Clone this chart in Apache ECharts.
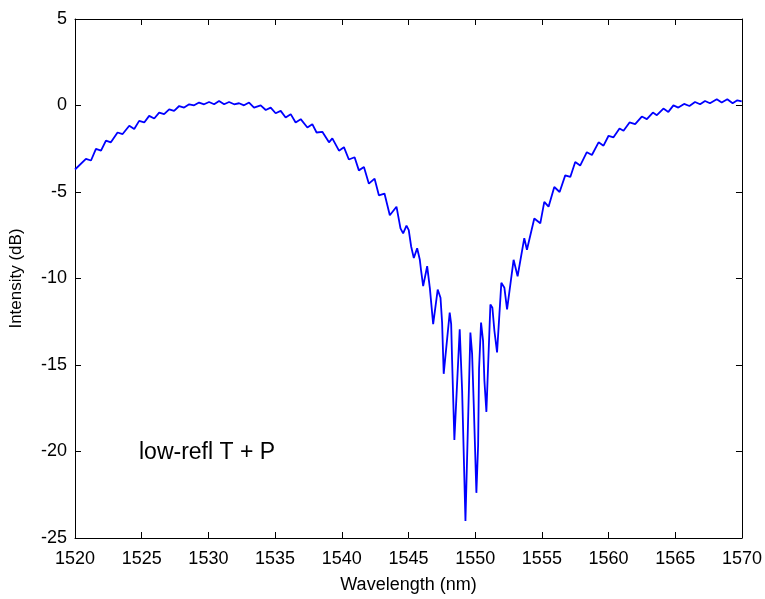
<!DOCTYPE html>
<html>
<head>
<meta charset="utf-8">
<script src="https://cdn.jsdelivr.net/npm/echarts@6/dist/echarts.min.js"></script>
<style>
html, body { margin: 0; padding: 0; background: #fff; }
#chart { width: 765px; height: 599px; }
</style>
</head>
<body>
<div id="chart"></div>
<script>
// values, three pieces: left wing, dip, right wing
var leftNm = [1520.00, 1520.07, 1520.82, 1521.20, 1521.57, 1521.95, 1522.32, 1522.69, 1523.19, 1523.57,
  1524.07, 1524.44, 1524.81, 1525.19, 1525.56, 1525.94, 1526.31, 1526.68, 1527.06, 1527.43,
  1527.81, 1528.18, 1528.56, 1528.93, 1529.30, 1529.68, 1530.05, 1530.43, 1530.80, 1531.18,
  1531.55, 1531.93, 1532.30, 1532.67, 1533.05, 1533.42, 1533.92, 1534.30, 1534.67, 1535.04,
  1535.42, 1535.79, 1536.17, 1536.54, 1536.92, 1537.42, 1537.79, 1538.11, 1538.54, 1539.04,
  1539.29, 1539.79, 1540.16, 1540.53, 1540.96, 1541.28, 1541.66, 1542.03, 1542.46, 1542.78,
  1543.20, 1543.60, 1544.10]
var leftDb = [-3.70, -3.75, -3.08, -3.18, -2.51, -2.61, -2.03, -2.13, -1.56, -1.65,
  -1.17, -1.36, -0.89, -0.98, -0.60, -0.75, -0.41, -0.50, -0.22, -0.31,
  -0.03, -0.12, 0.07, 0.01, 0.17, 0.07, 0.20, 0.07, 0.26, 0.07,
  0.20, 0.07, 0.13, 0.01, 0.17, -0.12, 0.01, -0.26, -0.12, -0.45,
  -0.31, -0.69, -0.50, -0.98, -0.79, -1.27, -1.08, -1.56, -1.52, -2.13,
  -1.90, -2.61, -2.41, -3.12, -2.99, -3.75, -3.56, -4.52, -4.23, -5.19,
  -5.09, -6.34, -5.85]

var dipNm = [1544.40, 1544.60, 1544.85, 1545.02, 1545.20, 1545.40, 1545.65, 1545.85, 1545.95, 1546.10,
  1546.40, 1546.60, 1546.85, 1547.19, 1547.40, 1547.52, 1547.64, 1548.09, 1548.20, 1548.27,
  1548.44, 1548.84, 1549.02, 1549.27, 1549.64, 1549.77, 1549.89, 1550.09, 1550.22, 1550.29,
  1550.44, 1550.59, 1550.69, 1550.84, 1551.14, 1551.29, 1551.44, 1551.64, 1551.96, 1552.19,
  1552.39, 1552.88, 1553.18, 1553.68, 1553.88, 1554.43, 1554.88]
var dipDb = [-7.10, -7.39, -6.94, -7.20, -8.15, -8.82, -8.25, -8.92, -9.58, -10.44,
  -9.29, -10.54, -12.64, -10.64, -11.11, -12.55, -15.51, -11.97, -12.64, -14.74,
  -19.33, -12.93, -16.46, -24.01, -13.12, -14.36, -17.23, -22.39, -19.62, -15.22,
  -12.55, -13.60, -15.89, -17.71, -11.50, -11.69, -13.02, -14.27, -10.25, -10.54,
  -11.78, -8.92, -9.87, -7.67, -8.34, -6.53, -6.81]

var rightNm = [1555.18, 1555.50, 1555.93, 1556.33, 1556.75, 1557.13, 1557.50, 1557.87, 1558.37, 1558.75,
  1559.25, 1559.62, 1560.00, 1560.37, 1560.82, 1561.12, 1561.57, 1561.99, 1562.49, 1562.87,
  1563.32, 1563.62, 1564.11, 1564.48, 1564.86, 1565.23, 1565.66, 1566.06, 1566.48, 1566.86,
  1567.23, 1567.60, 1568.11, 1568.48, 1568.90, 1569.30, 1569.65, 1569.98]
var rightDb = [-5.57, -5.85, -4.71, -5.00, -4.04, -4.13, -3.27, -3.47, -2.70, -2.86,
  -2.13, -2.32, -1.75, -1.84, -1.33, -1.46, -0.98, -1.08, -0.64, -0.79,
  -0.41, -0.56, -0.18, -0.37, 0.01, -0.12, 0.09, -0.03, 0.20, 0.07,
  0.26, 0.13, 0.36, 0.17, 0.36, 0.13, 0.30, 0.24]

var xTicks = { min: 1520, max: 1570, interval: 5 }
var yTicks = { min: -25, max: 5, interval: 5 }

var nm = leftNm.concat(dipNm, rightNm)
var db = leftDb.concat(dipDb, rightDb)
var points = nm.map(function (x, i) { return [x, db[i]] })

var font = "'Liberation Sans', Arial, sans-serif"
var axisLine = { show: true, onZero: false, lineStyle: { color: "#000", width: 1 } }
var tick = { show: true, inside: true, length: 6, lineStyle: { color: "#000" } }
// plain numbers, no thousands separator
var plain = function (v) { return String(v) }

var myChart = echarts.init(document.getElementById("chart"))
myChart.setOption({
  animation: false,
  backgroundColor: "#fff",
  grid: { left: 74, right: 23, top: 19, bottom: 57 },
  xAxis: [
    {
      type: "value", position: "bottom",
      min: xTicks.min, max: xTicks.max, interval: xTicks.interval,
      axisLine: axisLine, axisTick: tick, splitLine: { show: false },
      axisLabel: { color: "#000", fontSize: 18, fontFamily: font, margin: 12, formatter: plain },
      name: "Wavelength (nm)", nameLocation: "middle", nameGap: 38,
      nameTextStyle: { color: "#000", fontSize: 18, fontFamily: font }
    },
    {
      type: "value", position: "top",
      min: xTicks.min, max: xTicks.max, interval: xTicks.interval,
      axisLine: axisLine, axisTick: tick, splitLine: { show: false },
      axisLabel: { show: false }
    }
  ],
  yAxis: [
    {
      type: "value", position: "left",
      min: yTicks.min, max: yTicks.max, interval: yTicks.interval,
      axisLine: axisLine, axisTick: tick, splitLine: { show: false },
      axisLabel: { color: "#000", fontSize: 18, fontFamily: font, margin: 8, formatter: plain },
      name: "Intensity (dB)", nameLocation: "middle", nameGap: 50,
      nameTextStyle: { color: "#000", fontSize: 17, fontFamily: font }
    },
    {
      type: "value", position: "right",
      min: yTicks.min, max: yTicks.max, interval: yTicks.interval,
      axisLine: axisLine, axisTick: tick, splitLine: { show: false },
      axisLabel: { show: false }
    }
  ],
  graphic: [
    {
      type: "text", left: 139, top: 441,
      style: { text: "low-refl T + P", fill: "#000", font: "23px " + font }
    }
  ],
  series: [
    {
      type: "line",
      data: points,
      showSymbol: false,
      lineStyle: { color: "#0000ff", width: 1.8 }
    }
  ]
})
</script>
</body>
</html>
